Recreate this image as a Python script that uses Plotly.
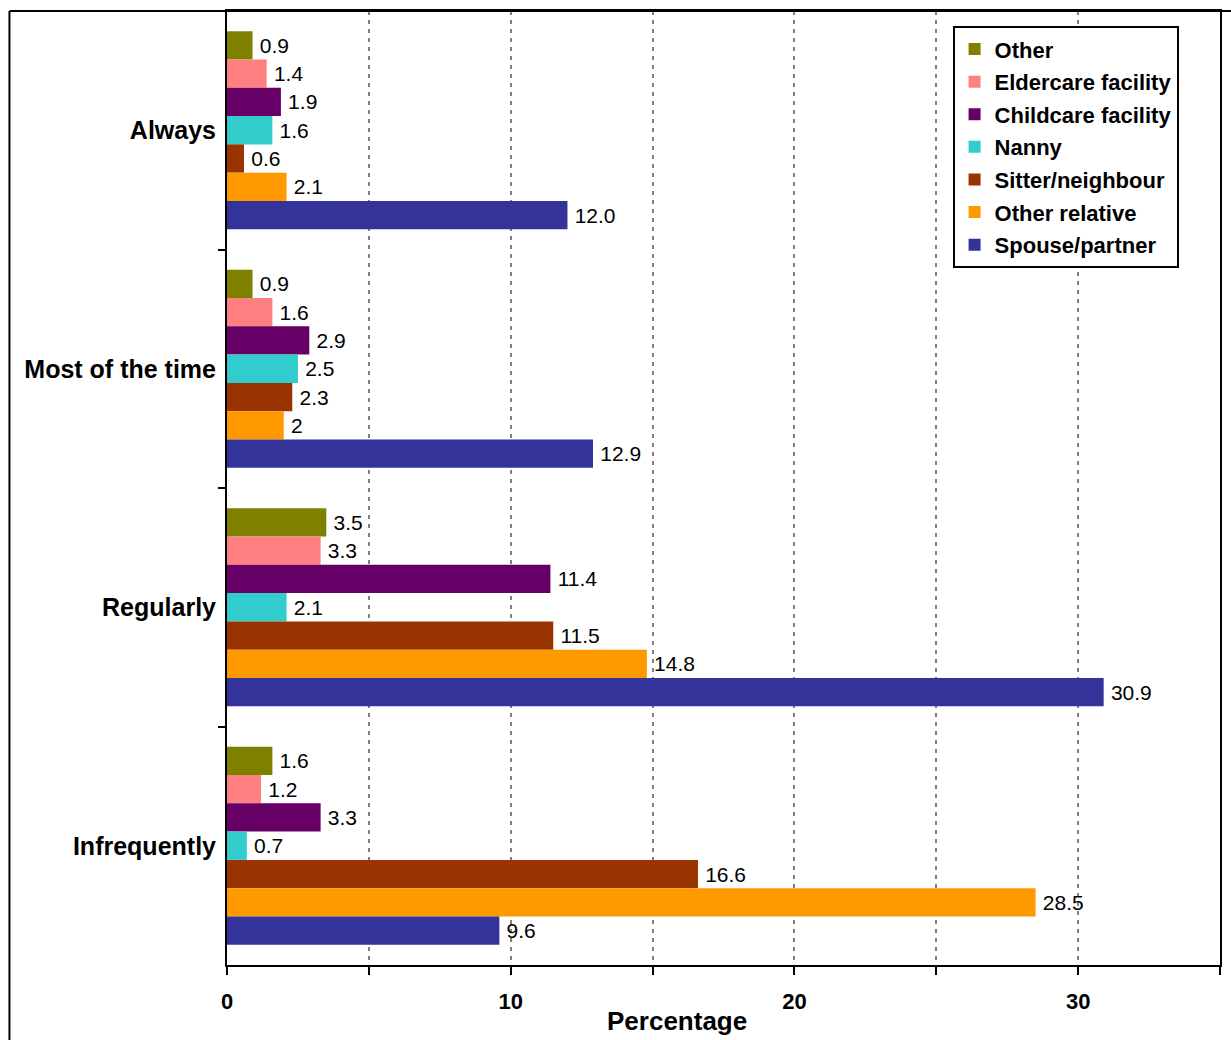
import plotly.graph_objects as go

# Frequency categories (top to bottom)
categories = ["Always", "Most of the time", "Regularly", "Infrequently"]

# Care arrangement series, in legend order (top to bottom)
series_names = [
    "Other",
    "Eldercare facility",
    "Childcare facility",
    "Nanny",
    "Sitter/neighbour",
    "Other relative",
    "Spouse/partner",
]

# Percentages per series, one value per category
other = [0.9, 0.9, 3.5, 1.6]
eldercare = [1.4, 1.6, 3.3, 1.2]
childcare = [1.9, 2.9, 11.4, 3.3]
nanny = [1.6, 2.5, 2.1, 0.7]
sitter = [0.6, 2.3, 11.5, 16.6]
other_relative = [2.1, 2.0, 14.8, 28.5]
spouse = [12.0, 12.9, 30.9, 9.6]

# Value labels as printed beside each bar
other_lbl = ["0.9", "0.9", "3.5", "1.6"]
eldercare_lbl = ["1.4", "1.6", "3.3", "1.2"]
childcare_lbl = ["1.9", "2.9", "11.4", "3.3"]
nanny_lbl = ["1.6", "2.5", "2.1", "0.7"]
sitter_lbl = ["0.6", "2.3", "11.5", "16.6"]
other_relative_lbl = ["2.1", "2", "14.8", "28.5"]
spouse_lbl = ["12.0", "12.9", "30.9", "9.6"]

# Axis ticks
x_tick_vals = [0, 5, 10, 15, 20, 25, 30, 35]
x_tick_text = ["0", "", "10", "", "20", "", "30", ""]

values = [other, eldercare, childcare, nanny, sitter, other_relative, spouse]
labels = [other_lbl, eldercare_lbl, childcare_lbl, nanny_lbl, sitter_lbl,
          other_relative_lbl, spouse_lbl]
colors = ["#808000", "#FF8080", "#660066", "#33CCCC", "#993300", "#FF9900", "#333399"]

FONT = "Liberation Sans, Arial, sans-serif"

fig = go.Figure()
for i, (name, vals, lbls, col) in enumerate(zip(series_names, values, labels, colors)):
    fig.add_trace(go.Bar(
        name=name,
        y=categories,
        x=vals,
        orientation="h",
        marker=dict(color=col, line=dict(width=0)),
        text=lbls,
        texttemplate="\u2009%{text}",
        textposition="outside",
        textfont=dict(family=FONT, size=21, color="black"),
        cliponaxis=False,
        constraintext="none",
        legendgroup=f"g{i}",
    ))

fig.update_layout(
    width=1231,
    height=1040,
    margin=dict(l=227, r=9, t=9, b=75),
    paper_bgcolor="white",
    plot_bgcolor="white",
    barmode="group",
    bargap=0.17,
    bargroupgap=0,
    font=dict(family=FONT, color="black"),
    showlegend=True,
    legend=dict(
        x=0.7307, y=0.984, xanchor="left", yanchor="top",
        bgcolor="white", bordercolor="black", borderwidth=2,
        font=dict(family=FONT, size=22, color="black", weight="bold"),
        traceorder="grouped",
        tracegroupgap=1,
        itemclick=False,
    ),
    xaxis=dict(
        range=[0, 35],
        tickvals=x_tick_vals,
        ticktext=x_tick_text,
        ticks="outside",
        ticklen=8,
        tickwidth=2,
        tickcolor="black",
        ticklabelstandoff=8,
        tickfont=dict(family=FONT, size=22, color="black", weight="bold"),
        showline=True,
        linecolor="black",
        linewidth=2,
        mirror=True,
        showgrid=True,
        gridcolor="#808080",
        gridwidth=2,
        griddash="4px,5px",
        zeroline=False,
    ),
    yaxis=dict(
        categoryorder="array",
        categoryarray=categories,
        autorange="reversed",
        tickson="boundaries",
        ticks="outside",
        ticklen=7,
        tickwidth=2,
        tickcolor="black",
        ticklabelstandoff=4,
        tickfont=dict(family=FONT, size=25, color="black", weight="bold"),
        showline=True,
        linecolor="black",
        linewidth=2,
        mirror=True,
        showgrid=False,
        zeroline=False,
    ),
)

# Axis title under the x axis
fig.add_annotation(
    text="Percentage",
    xref="paper", yref="paper",
    x=0.4533, y=-0.0586,
    xanchor="center", yanchor="middle",
    showarrow=False,
    font=dict(family=FONT, size=26, color="black", weight="bold"),
)

# Chart frame (left and top edges)
fig.add_shape(type="line", xref="paper", yref="paper",
              x0=-0.2191, x1=-0.2191, y0=1.0, y1=-0.2,
              line=dict(color="black", width=2))
fig.add_shape(type="line", xref="paper", yref="paper",
              x0=-0.2191, x1=1.05, y0=1.0, y1=1.0,
              line=dict(color="black", width=2))

fig.write_html("out.html")
